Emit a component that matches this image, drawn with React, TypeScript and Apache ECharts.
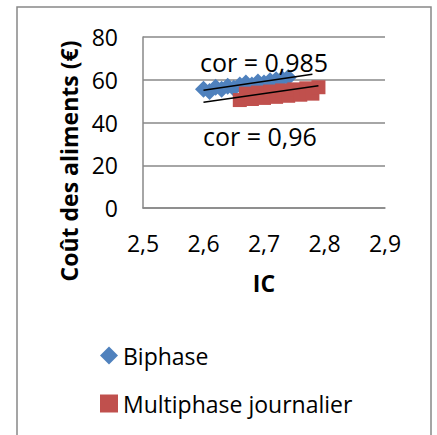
import React, { useEffect, useRef } from "react";
import * as echarts from "echarts";

// Feed cost (€) vs feed conversion ratio (IC) for two feeding strategies
const biphaseIC = [2.6, 2.61, 2.62, 2.63, 2.64, 2.65, 2.66, 2.67, 2.68, 2.69, 2.7, 2.71, 2.72, 2.73, 2.74];
const biphaseCost = [55.5, 54.5, 56.5, 55.5, 57, 56, 57.5, 58.5, 57.5, 59, 58.5, 59.5, 60, 60.5, 61];

const multiIC = [2.66, 2.67, 2.68, 2.69, 2.7, 2.71, 2.72, 2.73, 2.74, 2.75, 2.76, 2.77, 2.78, 2.79];
const multiCost = [50.5, 53.5, 51, 54, 51.5, 54.5, 52, 55, 52.5, 55.5, 53, 56, 53.5, 56.5];

// Linear trend lines (endpoints)
const biphaseTrendIC = [2.6, 2.78];
const biphaseTrendCost = [55.1, 62.6];
const multiTrendIC = [2.6, 2.79];
const multiTrendCost = [49.5, 57.2];

const corLabels = ["cor = 0,985", "cor = 0,96"];
const yTitle = "Coût des aliments (€)";

const FONT = "Open Sans";
const BLUE = "#4F81BD";
const RED = "#C0504D";
const GRAY = "#888888";

const zip = (xs: number[], ys: number[]) => xs.map((x, i) => [x, ys[i]]);
const comma = (v: number) => String(Math.round(v * 10) / 10).replace(".", ",");

export default function App() {
  const ref = useRef<HTMLDivElement>(null);

  useEffect(() => {
    if (!ref.current) return;
    const chart = echarts.init(ref.current, null, { renderer: "svg" });
    chart.setOption({
      animation: false,
      backgroundColor: "#ffffff",
      grid: {
        left: 143,
        top: 37,
        width: 242,
        height: 171,
        containLabel: false,
        outerBoundsMode: "none",
      },
      xAxis: {
        type: "value",
        min: 2.5,
        max: 2.9,
        interval: 0.1,
        name: "IC",
        nameLocation: "middle",
        nameGap: 63,
        nameTextStyle: { fontFamily: FONT, fontWeight: "bold", fontSize: 23, color: "#000" },
        axisLine: { show: true, lineStyle: { color: GRAY, width: 1.5 } },
        axisTick: { show: false },
        splitLine: { show: false },
        axisLabel: {
          formatter: comma,
          fontFamily: FONT,
          fontSize: 23,
          color: "#000",
          margin: 23,
        },
      },
      yAxis: {
        type: "value",
        min: 0,
        max: 80,
        interval: 20,
        axisLine: { show: true, lineStyle: { color: GRAY, width: 1.5 } },
        axisTick: { show: false },
        splitLine: { show: true, lineStyle: { color: GRAY, width: 1.5 } },
        axisLabel: {
          fontFamily: FONT,
          fontSize: 23,
          color: "#000",
          margin: 25,
        },
      },
      legend: {
        orient: "vertical",
        left: 95,
        top: 339,
        itemGap: 25,
        itemWidth: 18,
        itemHeight: 18,
        textStyle: { fontFamily: FONT, fontSize: 23, color: "#000" },
        data: [
          { name: "Biphase", icon: "diamond", itemStyle: { color: BLUE, opacity: 1 } },
          { name: "Multiphase journalier", icon: "rect", itemStyle: { color: RED, opacity: 1 } },
        ],
      },
      series: [
        {
          name: "Biphase",
          type: "scatter",
          symbol: "diamond",
          symbolSize: 17,
          itemStyle: { color: BLUE, opacity: 1 },
          data: zip(biphaseIC, biphaseCost),
          z: 2,
        },
        {
          name: "Multiphase journalier",
          type: "scatter",
          symbol: "rect",
          symbolSize: 14,
          itemStyle: { color: RED, opacity: 1 },
          data: zip(multiIC, multiCost),
          z: 3,
        },
        {
          name: "trend-biphase",
          type: "line",
          symbol: "none",
          lineStyle: { color: "#000", width: 1.5 },
          data: zip(biphaseTrendIC, biphaseTrendCost),
          z: 4,
        },
        {
          name: "trend-multi",
          type: "line",
          symbol: "none",
          lineStyle: { color: "#000", width: 1.5 },
          data: zip(multiTrendIC, multiTrendCost),
          z: 4,
        },
      ],
      graphic: [
        {
          type: "rect",
          shape: { x: 17, y: 7, width: 414, height: 440 },
          style: { fill: "none", stroke: GRAY, lineWidth: 1.5 },
          z: 0,
        },
        {
          // vertical axis title, centred a little below the plot's middle
          type: "text",
          x: 69,
          y: 161,
          rotation: Math.PI / 2,
          style: {
            text: yTitle,
            fontFamily: FONT,
            fontWeight: "bold",
            fontSize: 23,
            fill: "#000",
            align: "center",
            verticalAlign: "middle",
          },
          z: 10,
        },
        {
          type: "text",
          left: 200,
          top: 49,
          style: { text: corLabels[0], fontFamily: FONT, fontSize: 25, fill: "#000" },
          z: 10,
        },
        {
          type: "text",
          left: 203,
          top: 123,
          style: { text: corLabels[1], fontFamily: FONT, fontSize: 25, fill: "#000" },
          z: 10,
        },
      ],
    });
    return () => chart.dispose();
  }, []);

  return (
    <div
      ref={ref}
      style={{ position: "absolute", left: 0, top: 0, width: 437, height: 435 }}
    />
  );
}
